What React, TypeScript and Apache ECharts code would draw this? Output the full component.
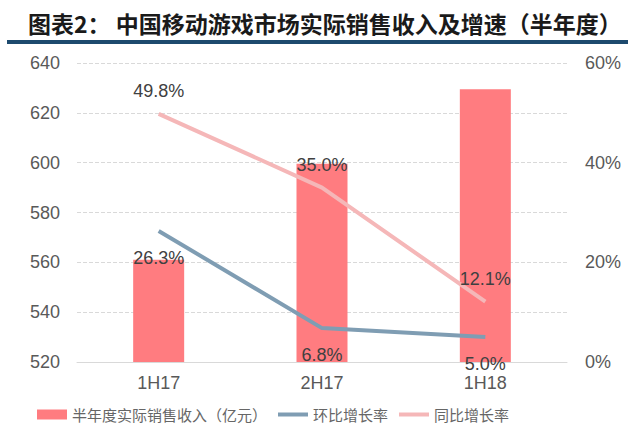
import React, { useEffect, useRef } from "react";
import * as echarts from "echarts";

const categories = ["1H17", "2H17", "1H18"];
const revenue = [561.0, 599.6, 629.5];
const qoqGrowth = [26.3, 6.8, 5.0];
const yoyGrowth = [49.8, 35.0, 12.1];
const leftTicks = { min: 520, max: 640, interval: 20 };
const rightTicks = { min: 0, max: 60, interval: 20 };

const titleText = "图表2： 中国移动游戏市场实际销售收入及增速（半年度）";
const seriesNames = ["半年度实际销售收入（亿元）", "环比增长率", "同比增长率"];

const latin = "Liberation Sans, Arial, Noto Sans CJK SC, sans-serif";
const cjk = "Noto Sans CJK SC, Liberation Sans, sans-serif";
const lineIcon = "path://M0,0 H30 V4 H0 Z";

export default function App() {
  const ref = useRef<HTMLDivElement>(null);
  useEffect(() => {
    if (!ref.current) return;
    const chart = echarts.init(ref.current, null, { renderer: "svg" });
    const pct = (p: any) => Number(p.value).toFixed(1) + "%";
    chart.setOption({
      animation: false,
      backgroundColor: "#ffffff",
      title: {
        text: titleText,
        left: 23,
        top: 6,
        textStyle: { fontFamily: cjk, fontSize: 23, fontWeight: "bold", color: "#1a1a1a" },
      },
      graphic: [
        { type: "rect", shape: { x: 7, y: 40, width: 621, height: 4 }, style: { fill: "#1d4a6e" } },
      ],
      grid: { left: 77, right: 68, top: 63, bottom: 68 },
      legend: {
        left: 32,
        top: 402,
        itemWidth: 30,
        itemHeight: 10,
        itemGap: 11,
        textStyle: { fontFamily: cjk, fontSize: 15, color: "#666666" },
        data: [
          { name: seriesNames[0], icon: "rect" },
          { name: seriesNames[1], icon: lineIcon },
          { name: seriesNames[2], icon: lineIcon },
        ],
      },
      xAxis: {
        type: "category",
        data: categories,
        axisLine: { lineStyle: { color: "#d9d9d9", width: 1 } },
        axisTick: { show: false },
        axisLabel: { fontFamily: latin, fontSize: 18, color: "#595959", margin: 12 },
      },
      yAxis: [
        {
          type: "value",
          ...leftTicks,
          axisLine: { show: false },
          axisTick: { show: false },
          axisLabel: { fontFamily: latin, fontSize: 18, color: "#595959", margin: 17 },
          splitLine: { lineStyle: { color: "#d9d9d9", type: "dashed", width: 1 } },
        },
        {
          type: "value",
          ...rightTicks,
          axisLine: { show: false },
          axisTick: { show: false },
          axisLabel: { fontFamily: latin, fontSize: 18, color: "#595959", margin: 18, formatter: "{value}%" },
          splitLine: { show: false },
        },
      ],
      series: [
        {
          name: seriesNames[0],
          type: "bar",
          data: revenue,
          barWidth: 51,
          itemStyle: { color: "#ff7c80" },
          z: 1,
        },
        {
          name: seriesNames[1],
          type: "line",
          yAxisIndex: 1,
          data: qoqGrowth,
          symbol: "circle",
          symbolSize: 0,
          showSymbol: true,
          lineStyle: { color: "#7f9db3", width: 4 },
          itemStyle: { color: "#7f9db3" },
          label: {
            show: true,
            position: "bottom",
            distance: 18,
            formatter: pct,
            fontFamily: latin,
            fontSize: 18,
            color: "#404040",
          },
          z: 3,
        },
        {
          name: seriesNames[2],
          type: "line",
          yAxisIndex: 1,
          data: yoyGrowth,
          symbol: "circle",
          symbolSize: 0,
          showSymbol: true,
          lineStyle: { color: "#f5b7b8", width: 4 },
          itemStyle: { color: "#f5b7b8" },
          label: {
            show: true,
            position: "top",
            distance: 14,
            formatter: pct,
            fontFamily: latin,
            fontSize: 18,
            color: "#404040",
          },
          z: 4,
        },
      ],
    });
    return () => chart.dispose();
  }, []);
  return (
    <div
      ref={ref}
      style={{ position: "fixed", left: 0, top: 0, width: 635, height: 430, background: "#fff" }}
    />
  );
}
